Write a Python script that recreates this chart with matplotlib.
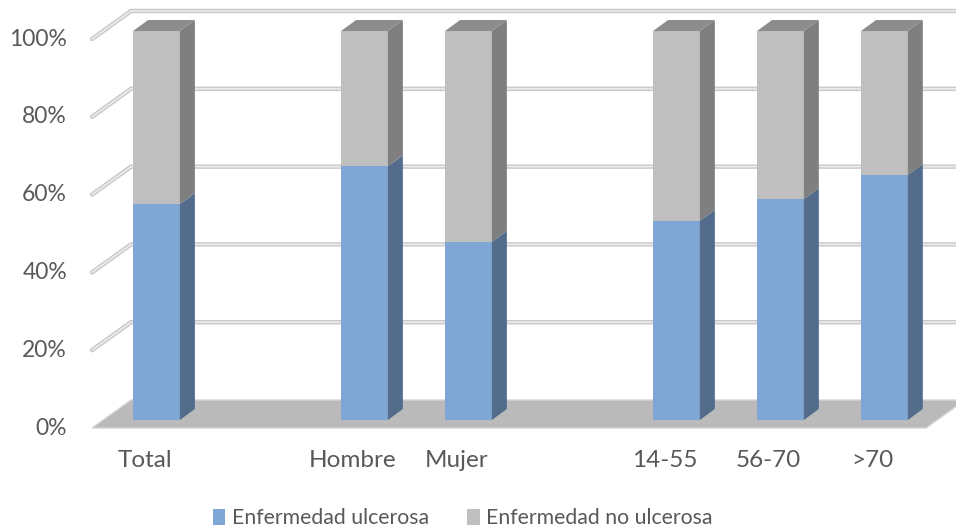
import matplotlib
matplotlib.use('Agg')
import matplotlib.pyplot as plt
from matplotlib.patches import Polygon, Patch

plt.rcParams['font.family'] = ['Lato', 'DejaVu Sans']

categories = ['Total', '', 'Hombre', 'Mujer', '', '14-55', '56-70', '>70']
ulcerosa = [55.5, None, 65.2, 45.8, None, 51.2, 56.8, 63.0]
ticks = [0, 20, 40, 60, 80, 100]
series_names = ['Enfermedad ulcerosa', 'Enfermedad no ulcerosa']

blue, blue_side = '#7fa6d4', '#546c8c'
grey, grey_side, grey_top = '#bfbfbf', '#7f7f7f', '#8c8c8c'
text_col = '#595959'

# 3d look: bar width/depth, and where the front/back planes of the walls sit
bar_w = 0.45
dep_x, dep_y = 0.144, 2.83
front_x, front_y = -0.62, -2.06
back_x, back_y = -0.245, 5.14
right_front = 7.40
right_back = right_front + (back_x - front_x)

fig = plt.figure(figsize=(9.56, 5.3), dpi=100)
ax = fig.add_axes([0, 0, 1, 1])
ax.set_xlim(-1.505, 7.688)
ax.set_ylim(-28.28, 107.97)
ax.axis('off')

# gridlines (front slant + back wall)
for t in ticks[1:]:
    xs = [front_x, back_x, 8.0]
    ys = [t + front_y, t + back_y, t + back_y]
    ax.plot(xs, ys, color='#c9c9c9', lw=3.2, solid_capstyle='round', zorder=1)
    ax.plot(xs, ys, color='#ececec', lw=1.2, solid_capstyle='round', zorder=1.1)
for t in ticks:
    ax.text(-0.86, t + front_y, f'{t}%', ha='right', va='center',
            fontsize=16.5, color=text_col)

# floor
floor = Polygon([(front_x, front_y), (right_front, front_y),
                 (right_back, back_y), (back_x, back_y)],
                closed=True, facecolor='#bababa', edgecolor='#d4d4d4', lw=1, zorder=2)
ax.add_patch(floor)

for i, (cat, v) in enumerate(zip(categories, ulcerosa)):
    if cat:
        ax.text(i - 0.115, -10.4, cat, ha='center', va='center',
                fontsize=17.5, color=text_col)
    if v is None:
        continue
    x0 = i - bar_w / 2
    x1 = i + bar_w / 2
    segs = [(0, v, blue, blue_side), (v, 100, grey, grey_side)]
    for lo, hi, fc, sc in segs:
        ax.add_patch(Polygon([(x0, lo), (x1, lo), (x1, hi), (x0, hi)],
                             closed=True, facecolor=fc, edgecolor='none', zorder=3))
        ax.add_patch(Polygon([(x1, lo), (x1 + dep_x, lo + dep_y),
                              (x1 + dep_x, hi + dep_y), (x1, hi)],
                             closed=True, facecolor=sc, edgecolor='none', zorder=3))
    ax.add_patch(Polygon([(x0, 100), (x1, 100), (x1 + dep_x, 100 + dep_y),
                          (x0 + dep_x, 100 + dep_y)],
                         closed=True, facecolor=grey_top, edgecolor='none', zorder=3))

handles = [Patch(facecolor=blue), Patch(facecolor=grey)]
fig.legend(handles, series_names, loc='center', bbox_to_anchor=(0.484, 0.022),
           ncol=2, frameon=False, fontsize=15.3, handlelength=0.6, handleheight=0.75,
           handletextpad=0.3, columnspacing=1.8, labelcolor=text_col)

fig.savefig('out.png', dpi=100)
